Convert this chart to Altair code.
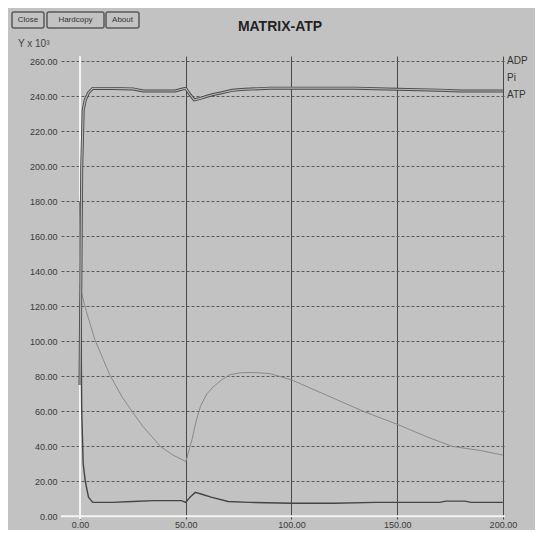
import altair as alt
import pandas as pd

# ---- data ----
t_atp = [0, 0.8, 1.5, 2.5, 4, 6, 15, 25, 30, 45, 48, 50, 52, 54, 57, 60, 63, 67, 72, 78, 90, 110, 130, 150, 170, 180, 190, 200]
atp = [75, 200, 232, 238, 242, 244.5, 244.5, 244.2, 243, 243, 244, 244.5, 241, 238, 238.8, 240, 241, 242, 243.4, 244, 244.6, 244.6, 244.6, 244, 243.5, 243, 243, 243]

t_adp = [0, 0.8, 1.5, 2.5, 4, 6, 15, 25, 35, 48, 50, 52, 54.5, 58, 62, 70, 80, 100, 120, 140, 170, 173, 182, 185, 200]
adp = [180, 60, 30, 20, 11, 8, 8, 8.5, 9, 9, 8, 11, 13.7, 12.5, 11, 8.5, 8, 7.5, 7.5, 8, 8, 8.7, 8.7, 8, 8]

t_pi = [0, 3, 7, 14, 20, 24, 30, 38, 44, 50, 50.5, 52, 53, 55, 57, 60, 63, 67, 71, 76, 80, 85, 90, 100, 117, 134, 150, 165, 176, 190, 200]
pi = [131, 117, 101, 81, 68, 61, 51, 40, 35, 31.4, 33, 40, 44, 55, 63, 70, 74, 78, 81, 82, 82.2, 82, 81.5, 78, 69, 60, 52.6, 45, 40, 37.5, 35]

series_names = ["ADP", "Pi", "ATP"]
x_ticks = [0, 50, 100, 150, 200]
y_ticks = list(range(0, 261, 20))
buttons = ["Close", "Hardcopy", "About"]
title_text = "MATRIX-ATP"
y_title = "Y x 10³"

# ---- tables ----
df_atp = pd.DataFrame({"t": t_atp, "v": atp})
df_adp = pd.DataFrame({"t": t_adp, "v": adp})
df_pi = pd.DataFrame({"t": t_pi, "v": pi})

W, H = 444, 463
xscale = alt.Scale(domain=[-9, 201], nice=False, zero=False)
yscale = alt.Scale(domain=[-1.5, 263], nice=False, zero=False)

FONT = "Liberation Sans"
BG = "#c2c2c2"

xaxis = alt.Axis(values=x_ticks, format=".2f", title=None, grid=True, gridColor="#474747",
                 gridWidth=1, domain=False, ticks=False, labelPadding=1,
                 labelFontSize=9, labelColor="#3a3a3a", labelFont=FONT, labelOverlap=False)
yaxis = alt.Axis(values=y_ticks, format=".2f", title=None, grid=True, gridColor="#5a5a5a",
                 gridDash=[3, 2], gridWidth=1.1, domain=False, ticks=False, labelPadding=4,
                 labelFontSize=9, labelColor="#3a3a3a", labelFont=FONT, labelOverlap=False)


def X(field):
    return alt.X(field, scale=xscale, axis=xaxis)


def Y(field):
    return alt.Y(field, scale=yscale, axis=yaxis)


zero_df = pd.DataFrame({"z": [0]})
vzero = alt.Chart(zero_df).mark_rule(color="#f4f4f4", strokeWidth=2).encode(x=X("z:Q"))
hzero = alt.Chart(zero_df).mark_rule(color="#f4f4f4", strokeWidth=2).encode(y=Y("z:Q"))

pi_line = alt.Chart(df_pi).mark_line(color="#8a8a8a", strokeWidth=1.0).encode(x=X("t:Q"), y=Y("v:Q"))
adp_line = alt.Chart(df_adp).mark_line(color="#444444", strokeWidth=1.4).encode(x=X("t:Q"), y=Y("v:Q"))
atp_outer = alt.Chart(df_atp).mark_line(color="#4a4a4a", strokeWidth=3.0).encode(x=X("t:Q"), y=Y("v:Q"))
atp_inner = alt.Chart(df_atp).mark_line(color="#b5b5b5", strokeWidth=1.2).encode(x=X("t:Q"), y=Y("v:Q"))

leg_df = pd.DataFrame({"label": series_names, "i": list(range(len(series_names)))})
legend = alt.Chart(leg_df).transform_calculate(py="5 + datum.i * 17").mark_text(
    align="left", baseline="middle", fontSize=10, font=FONT, color="#333333"
).encode(x=alt.value(446), y=alt.Y("py:Q", scale=None), text="label:N")

btn_df = pd.DataFrame({"label": buttons, "x0": [-49, -14, 45], "x1": [-17, 43, 78]})
btn_rect = alt.Chart(btn_df).mark_rect(fill=BG, stroke="#5a5a5a", strokeWidth=1.5, cornerRadius=2).encode(
    x=alt.X("x0:Q", scale=None), x2="x1:Q", y=alt.value(-44), y2=alt.value(-28)
)
btn_text = alt.Chart(btn_df).transform_calculate(xc="(datum.x0 + datum.x1) / 2").mark_text(
    fontSize=8, font=FONT, color="#333333", baseline="middle", align="center"
).encode(x=alt.X("xc:Q", scale=None), y=alt.value(-36), text="label:N")

title = alt.Chart(pd.DataFrame({"s": [title_text]})).mark_text(
    fontSize=14, fontWeight="bold", font=FONT, color="#222222", align="center", baseline="middle"
).encode(x=alt.value(219), y=alt.value(-29), text="s:N")

ytitle = alt.Chart(pd.DataFrame({"s": [y_title]})).mark_text(
    fontSize=10, font=FONT, color="#444444", align="left", baseline="middle"
).encode(x=alt.value(-43), y=alt.value(-12), text="s:N")

chart = alt.layer(vzero, hzero, pi_line, adp_line, atp_outer, atp_inner,
                  legend, btn_rect, btn_text, title, ytitle).properties(
    width=W, height=H,
    autosize=alt.AutoSizeParams(type="none"),
    padding={"left": 53, "top": 48, "right": 30, "bottom": 11},
    background=BG,
).configure_view(stroke=None)

chart.save("out.html", embed_options={"renderer": "svg", "actions": False})
